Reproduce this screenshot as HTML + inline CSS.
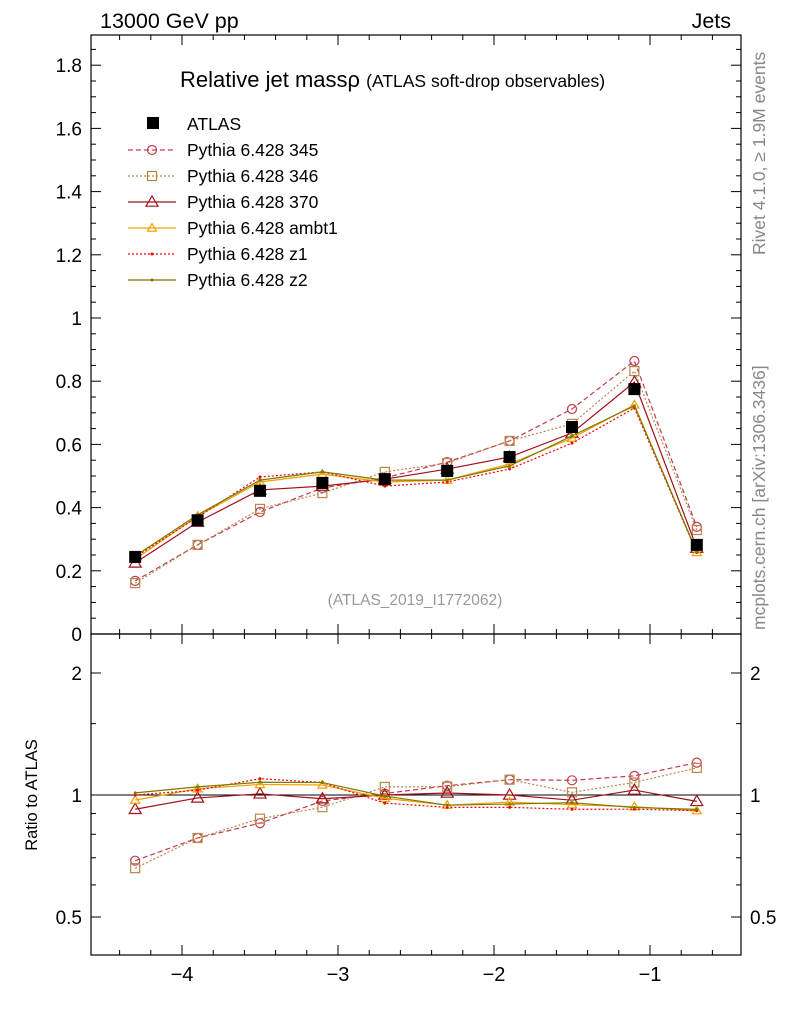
<!DOCTYPE html>
<html><head><meta charset="utf-8"><style>
body{margin:0;background:#fff;}
svg{font-family:"Liberation Sans",sans-serif;}
</style></head><body>
<svg id="c" width="786" height="1024" viewBox="0 0 786 1024"></svg>
<script>
const xCenters=[-4.3,-3.9,-3.5,-3.1,-2.7,-2.3,-1.9,-1.5,-1.1,-0.7];
const atlas=[0.244,0.36,0.453,0.478,0.49,0.516,0.56,0.655,0.775,0.282];
const p345=[0.168,0.282,0.386,0.462,0.494,0.544,0.611,0.712,0.864,0.339];
const p346=[0.161,0.282,0.396,0.446,0.513,0.541,0.611,0.665,0.832,0.329];
const p370=[0.225,0.354,0.456,0.468,0.49,0.522,0.56,0.636,0.797,0.272];
const pambt1=[0.237,0.373,0.481,0.506,0.481,0.487,0.538,0.62,0.725,0.258];
const pz1=[0.244,0.37,0.497,0.513,0.468,0.481,0.522,0.604,0.715,0.258];
const pz2=[0.247,0.377,0.487,0.513,0.487,0.487,0.532,0.627,0.722,0.260];
const seriesNames=["Pythia 6.428 345","Pythia 6.428 346","Pythia 6.428 370","Pythia 6.428 ambt1","Pythia 6.428 z1","Pythia 6.428 z2"];
const xTicks=[-4,-3,-2,-1];
const yTicksMain=[0,0.2,0.4,0.6,0.8,1,1.2,1.4,1.6,1.8];
const yTicksRatio=[0.5,1,2];

const NS="http://www.w3.org/2000/svg";
const svg=document.getElementById('c');
function el(t,a,p){const e=document.createElementNS(NS,t);for(const k in a)e.setAttribute(k,a[k]);(p||svg).appendChild(e);return e;}
const L=91,R=741,T=35,M=634,B=955;
const X=v=>182+(v+4)*156;
const Y=v=>634-316*v;
const YR=v=>795-122*Math.log2(v);

const styles=[
 {c:"#c23b4e",d:"5,3",m:"circle",s:4.5},
 {c:"#b8864b",d:"2,2",m:"square",s:4.5},
 {c:"#a0101a",d:"",m:"tri",s:6},
 {c:"#f0a000",d:"",m:"tri",s:4.5},
 {c:"#ff0000",d:"2,2",m:"dot",s:1.5},
 {c:"#7a7a00",d:"",m:"dot",s:1.5}];
const data=[p345,p346,p370,pambt1,pz1,pz2];

function marker(g,type,x,y,s,c){
 let e;
 if(type=="circle")e=el('circle',{cx:x,cy:y,r:s,fill:'none',stroke:c,'stroke-width':1.2},g);
 else if(type=="square")e=el('rect',{x:x-s,y:y-s,width:2*s,height:2*s,fill:'none',stroke:c,'stroke-width':1.2},g);
 else if(type=="tri")e=el('polygon',{points:`${x},${y-s} ${x-s},${y+s*0.7} ${x+s},${y+s*0.7}`,fill:'none',stroke:c,'stroke-width':1.2},g);
 else e=el('circle',{cx:x,cy:y,r:s,fill:c},g);
 
 
}

const f1=el('rect',{x:L,y:T,width:R-L,height:M-T,fill:'none',stroke:'#000','stroke-width':1.2});

const f2=el('rect',{x:L,y:M,width:R-L,height:B-M,fill:'none',stroke:'#000','stroke-width':1.2});


for(let v=-4.6;v<=-0.4;v+=0.2){const x=X(v);if(x<L||x>R)continue;
 const maj=Math.abs(v-Math.round(v))<1e-6;const h=maj?10:5;
 for(const [y0,dir] of [[M,-1],[T,1],[B,-1]]){el('line',{x1:x,x2:x,y1:y0,y2:y0+dir*h,stroke:'#000'});}
 el('line',{x1:x,x2:x,y1:M,y2:M+h,stroke:'#000'});
}
xTicks.forEach(v=>{const t=el('text',{x:X(v),y:981,'font-size':20,'text-anchor':'middle'});t.textContent="\u2212"+Math.abs(v);
 });

for(let v=0;v<=1.89;v+=0.05){const y=Y(v);const maj=Math.abs(v*5-Math.round(v*5))<1e-6;const h=maj?10:5;
 el('line',{x1:L,x2:L+h,y1:y,y2:y,stroke:'#000'});el('line',{x1:R,x2:R-h,y1:y,y2:y,stroke:'#000'});}
yTicksMain.forEach(v=>{const t=el('text',{x:82,y:Y(v)+7,'font-size':19,'text-anchor':'end'});t.textContent=String(v);
 });

[0.5,0.6,0.7,0.8,0.9,1,1.5,2].forEach(v=>{const y=YR(v);const maj=yTicksRatio.includes(v);const h=maj?10:5;
 el('line',{x1:L,x2:L+h,y1:y,y2:y,stroke:'#000'});el('line',{x1:R,x2:R-h,y1:y,y2:y,stroke:'#000'});});
yTicksRatio.forEach(v=>{for(const [x,a] of [[82,'end'],[750,'start']]){const t=el('text',{x:x,y:YR(v)+7,'font-size':19,'text-anchor':a});t.textContent=String(v);
 }});
const one=el('line',{x1:L,x2:R,y1:YR(1),y2:YR(1),stroke:'#000'});


data.forEach((d,i)=>{const st=styles[i];const g=el('g',{});
 
 el('polyline',{points:xCenters.map((x,j)=>X(x)+','+Y(d[j])).join(' '),fill:'none',stroke:st.c,'stroke-width':1.2,'stroke-dasharray':st.d},g);
 el('polyline',{points:xCenters.map((x,j)=>X(x)+','+YR(d[j]/atlas[j])).join(' '),fill:'none',stroke:st.c,'stroke-width':1.2,'stroke-dasharray':st.d},g);
 xCenters.forEach((x,j)=>{marker(g,st.m,X(x),Y(d[j]),st.s,st.c);marker(g,st.m,X(x),YR(d[j]/atlas[j]),st.s,st.c);});
});
atlas.forEach((v,j)=>{const r=el('rect',{x:X(xCenters[j])-6,y:Y(v)-6,width:12,height:12,fill:'#000'});
 });

const lg=el('g',{});
el('rect',{x:147,y:117,width:12,height:12,fill:'#000'},lg);
let t0=el('text',{x:187,y:130,'font-size':17.5},lg);t0.textContent="ATLAS";
seriesNames.forEach((n,i)=>{const y=150+i*26,st=styles[i];
 el('line',{x1:128,x2:176,y1:y,y2:y,stroke:st.c,'stroke-width':1.2,'stroke-dasharray':st.d},lg);
 marker(lg,st.m,152,y,st.s,st.c);
 const t=el('text',{x:187,y:y+6,'font-size':17.5},lg);t.textContent=n;
 });

function txt(s,a,name){const t=el('text',a);t.textContent=s;return t;}
txt("13000 GeV pp",{x:100,y:28,'font-size':21.5},'energy-label');
txt("Jets",{x:731,y:28,'font-size':21.5,'text-anchor':'end'},'process-label');
const ti=txt("",{x:180,y:87,'font-size':22},'plot-title');
ti.innerHTML='Relative jet mass\u03c1 <tspan font-size="17.5">(ATLAS soft-drop observables)</tspan>';
txt("(ATLAS_2019_I1772062)",{x:415,y:605,'font-size':15.5,fill:'#999','text-anchor':'middle'},'analysis-id');
txt("Rivet 4.1.0, \u2265 1.9M events",{x:0,y:0,'font-size':17.5,fill:'#888',transform:'translate(765,255) rotate(-90)'},'rivet-label');
txt("mcplots.cern.ch [arXiv:1306.3436]",{x:0,y:0,'font-size':17.5,fill:'#888',transform:'translate(765,630) rotate(-90)'},'mcplots-label');
txt("Ratio to ATLAS",{x:0,y:0,'font-size':16.5,'text-anchor':'middle',transform:'translate(37,795) rotate(-90)'},'ratio-y-axis-title');
</script>
</body></html>
